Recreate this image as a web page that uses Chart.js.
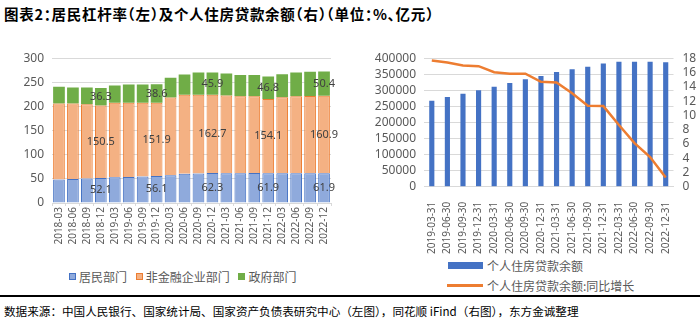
<!DOCTYPE html>
<html>
<head>
<meta charset="utf-8">
<script src="https://cdn.jsdelivr.net/npm/chart.js@4.4.1/dist/chart.umd.min.js"></script>
<style>
	body { margin: 0; background: #fff; }
	#page { position: relative; width: 700px; height: 322px; overflow: hidden; font-family: "Noto Sans CJK SC", sans-serif; }
	.title { position: absolute; left: 4px; top: 6px; font-size: 14.5px; line-height: 16px; font-weight: bold; color: #000; white-space: nowrap; font-feature-settings: "halt"; letter-spacing: 0.7px; }
	.rule { position: absolute; left: 0; top: 295px; width: 700px; height: 2px; background: #000; }
	.source { position: absolute; left: 4px; top: 304px; font-size: 11.6px; line-height: 14px; color: #000; white-space: nowrap; }
	canvas { position: absolute; }
	.legend { position: absolute; font-size: 12px; line-height: 14px; color: #595959; white-space: nowrap; }
	.legend span { display: inline-block; vertical-align: middle; }
	.sq { width: 5px; height: 5px; border: 1px solid; margin-right: 3px; }
	.item { margin-right: 6px; }
</style>
</head>
<body>
<div id="page">
	<div class="title">图表2：居民杠杆率（左）及个人住房贷款余额（右）（单位：%、亿元）</div>

	<canvas id="leverChart" width="345" height="215" style="left:0;top:40px;"></canvas>
	<canvas id="loanChart" width="350" height="215" style="left:350px;top:40px;"></canvas>

	<div class="legend" style="left:69px;top:268px;">
		<span class="sq" style="background:#8faadc;border-color:#4472c4;"></span><span class="item">居民部门</span>
		<span class="sq" style="background:#f4b183;border-color:#ed7d31;"></span><span class="item">非金融企业部门</span>
		<span class="sq" style="background:#70ad47;border-color:#70ad47;"></span><span>政府部门</span>
	</div>
	<div class="legend" style="left:448px;top:257px;">
		<span style="width:35px;height:7px;background:#4472c4;margin-right:4px;"></span><span>个人住房贷款余额</span>
	</div>
	<div class="legend" style="left:447px;top:277px;">
		<span style="width:36px;height:3px;background:#ed7d31;margin-right:4px;"></span><span>个人住房贷款余额:同比增长</span>
	</div>

	<div class="rule"></div>
	<div class="source">数据来源：中国人民银行、国家统计局、国家资产负债表研究中心（左图），同花顺 iFind（右图），东方金诚整理</div>
</div>

<script>
/* leverage by sector, % of GDP */
const quarters = ["2018-03", "2018-06", "2018-09", "2018-12", "2019-03", "2019-06", "2019-09", "2019-12",
	"2020-03", "2020-06", "2020-09", "2020-12", "2021-03", "2021-06", "2021-09", "2021-12",
	"2022-03", "2022-06", "2022-09", "2022-12"];
const household = [49.0, 49.6, 50.8, 52.1, 53.4, 54.2, 54.9, 56.1, 57.5, 60.5,
	61.5, 62.3, 62.0, 62.0, 62.2, 61.9, 62.0, 61.9, 62.0, 61.9];
const corporate = [157.8, 157.2, 154.2, 150.5, 154.6, 153.8, 153.1, 151.9, 161.5, 164.5,
	163.5, 162.7, 161.0, 159.5, 159.3, 154.1, 157.5, 159.6, 160.0, 160.9];
const government = [34.7, 33.2, 35.0, 36.3, 36.0, 38.0, 38.0, 38.6, 41.0, 42.0,
	46.0, 45.9, 46.0, 44.5, 44.5, 46.8, 48.0, 49.5, 50.5, 50.4];
// year-end quarters get value labels
const labelIndexes = [3, 7, 11, 15, 19];

/* personal housing loans, 亿元 and yoy % */
const dates = ["2019-03-31", "2019-06-30", "2019-09-30", "2019-12-31", "2020-03-31", "2020-06-30",
	"2020-09-30", "2020-12-31", "2021-03-31", "2021-06-30", "2021-09-30", "2021-12-31",
	"2022-03-31", "2022-06-30", "2022-09-30", "2022-12-31"];
const loanBalance = [267500, 279500, 289700, 300200, 311000, 323400, 334800, 344600,
	357300, 366200, 374000, 383800, 389000, 389000, 389200, 388000];
const loanYoY = [17.7, 17.4, 17.0, 16.9, 16.05, 15.85, 15.85, 14.7,
	14.6, 13.1, 11.35, 11.3, 8.65, 6.1, 4.15, 1.3];

Chart.defaults.font.family = "'Noto Sans', 'Noto Sans CJK SC', sans-serif";
Chart.defaults.color = "#595959";

const tickFont = { size: 12 };
const dateFont = { size: 10 };

// write the value in the middle of each labelled segment
const segmentLabels = {
	id: "segmentLabels",
	afterDatasetsDraw(chart) {
		const ctx = chart.ctx;
		ctx.save();
		ctx.font = "11px 'Noto Sans'";
		ctx.fillStyle = "#404040";
		ctx.textAlign = "center";
		ctx.textBaseline = "middle";
		chart.data.datasets.forEach(function(ds, i) {
			const meta = chart.getDatasetMeta(i);
			labelIndexes.forEach(function(j) {
				const p = meta.data[j].getProps(["x", "y", "base"], true);
				ctx.fillText(ds.data[j].toFixed(1), p.x, (p.y + p.base) / 2);
			});
		});
		ctx.restore();
	}
};

new Chart(document.getElementById("leverChart"), {
	type: "bar",
	data: {
		labels: quarters,
		datasets: [{
			label: "居民部门",
			data: household,
			backgroundColor: "#8faadc",
			borderColor: "#4472c4",
			borderWidth: 1
		}, {
			label: "非金融企业部门",
			data: corporate,
			backgroundColor: "#f4b183",
			borderColor: "#ed7d31",
			borderWidth: 1
		}, {
			label: "政府部门",
			data: government,
			backgroundColor: "#70ad47",
			borderWidth: 0
		}]
	},
	options: {
		responsive: false,
		animation: false,
		datasets: { bar: { categoryPercentage: 1, barPercentage: 0.84 } },
		layout: { padding: { top: 18.5, right: 14, left: 0, bottom: 0 } },
		plugins: { legend: { display: false }, tooltip: { enabled: false } },
		scales: {
			x: {
				stacked: true,
				grid: { display: true, drawOnChartArea: false, tickLength: 3, color: "#d9d9d9" },
				border: { color: "#d9d9d9" },
				ticks: { font: dateFont, minRotation: 90, maxRotation: 90, autoSkip: false, padding: 1 },
				afterFit(scale) { scale.height = 52; }
			},
			y: {
				stacked: true,
				min: 0,
				max: 300,
				ticks: { stepSize: 50, font: tickFont, padding: 8, autoSkip: false },
				grid: { color: "#d9d9d9", drawTicks: false },
				border: { display: false },
				afterFit(scale) { scale.width = 52; }
			}
		}
	},
	plugins: [segmentLabels]
});

new Chart(document.getElementById("loanChart"), {
	type: "bar",
	data: {
		labels: dates,
		datasets: [{
			type: "line",
			label: "个人住房贷款余额:同比增长",
			data: loanYoY,
			yAxisID: "y1",
			borderColor: "#ed7d31",
			borderWidth: 2.5,
			pointRadius: 0,
			tension: 0,
			order: 0
		}, {
			label: "个人住房贷款余额",
			data: loanBalance,
			yAxisID: "y",
			backgroundColor: "#4472c4",
			categoryPercentage: 1,
			barPercentage: 0.33,
			order: 1
		}]
	},
	options: {
		responsive: false,
		animation: false,
		layout: { padding: { top: 18.3, right: 0, left: 0, bottom: 0 } },
		plugins: { legend: { display: false }, tooltip: { enabled: false } },
		scales: {
			x: {
				grid: { display: false },
				border: { color: "#d9d9d9" },
				ticks: { font: dateFont, minRotation: 90, maxRotation: 90, autoSkip: false, padding: 7 },
				afterFit(scale) { scale.height = 68.3; }
			},
			y: {
				position: "left",
				min: 0,
				max: 400000,
				ticks: { stepSize: 50000, font: tickFont, padding: 8, autoSkip: false, callback: function(v) { return String(v); } },
				grid: { color: "#d9d9d9", drawTicks: false },
				border: { display: false },
				afterFit(scale) { scale.width = 74; }
			},
			y1: {
				position: "right",
				min: 0,
				max: 18,
				ticks: { stepSize: 2, font: tickFont, padding: 9, autoSkip: false },
				grid: { drawOnChartArea: false, drawTicks: false },
				border: { display: false },
				afterFit(scale) { scale.width = 26.5; }
			}
		}
	}
});
</script>
</body>
</html>
